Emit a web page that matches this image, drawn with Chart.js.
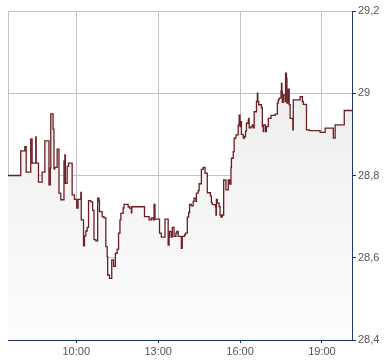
<!DOCTYPE html>
<html>
<head>
<meta charset="utf-8">
<script src="https://cdn.jsdelivr.net/npm/chart.js@4"></script>
<style>
    body { margin: 0; background: #fff; }
</style>
</head>
<body>
<canvas id="priceChart" width="390" height="364"></canvas>
<script>
// Время сделок (начало каждой ступени)
const times = ['07:30','07:58','08:07','08:10','08:20','08:23','08:31','08:32','08:37','08:45',
    '08:51','09:00','09:03','09:04','09:09','09:11','09:13','09:18','09:22','09:26',
    '09:33','09:35','09:36','09:40','09:43','09:51','09:56','10:01','10:04','10:10',
    '10:11','10:16','10:18','10:21','10:24','10:27','10:32','10:36','10:39','10:43',
    '10:47','10:50','10:51','10:57','11:01','11:05','11:08','11:09','11:13','11:18',
    '11:22','11:26','11:30','11:33','11:36','11:38','11:43','11:45','11:54','11:57',
    '12:01','12:02','12:30','12:40','12:45','12:49','12:51','12:53','13:03','13:07',
    '13:15','13:22','13:24','13:25','13:29','13:31','13:35','13:39','13:41','13:44',
    '13:51','13:53','13:58','14:00','14:04','14:07','14:09','14:13','14:17','14:19',
    '14:23','14:24','14:28','14:30','14:35','14:39','14:43','14:48','14:55','14:57',
    '14:59','15:06','15:07','15:08','15:10','15:14','15:16','15:18','15:21','15:24',
    '15:29','15:34','15:37','15:40','15:41','15:45','15:47','15:51','15:56','15:58',
    '16:00','16:01','16:03','16:07','16:10','16:12','16:14','16:18','16:19','16:20',
    '16:24','16:27','16:29','16:31','16:36','16:38','16:39','16:41','16:47','16:49',
    '16:51','16:52','16:56','16:58','17:02','17:08','17:17','17:22','17:24','17:26',
    '17:30','17:31','17:32','17:33','17:35','17:39','17:40','17:42','17:43','17:46',
    '17:48','17:50','17:56','17:57','18:12','18:17','18:19','18:26','18:32','18:56',
    '19:07','19:25','19:29','19:49','20:06'];

// Цена
const prices = [28.800,28.860,28.870,28.808,28.889,28.830,28.894,28.830,28.784,28.808,
    28.884,28.777,28.818,28.950,28.913,28.816,28.820,28.864,28.757,28.741,
    28.835,28.850,28.781,28.822,28.830,28.753,28.742,28.721,28.742,28.759,
    28.692,28.629,28.653,28.665,28.674,28.739,28.736,28.715,28.644,28.641,
    28.745,28.738,28.712,28.700,28.697,28.627,28.603,28.558,28.550,28.595,
    28.579,28.611,28.621,28.660,28.692,28.708,28.721,28.730,28.724,28.721,
    28.709,28.724,28.700,28.692,28.697,28.692,28.730,28.694,28.660,28.650,
    28.694,28.631,28.650,28.664,28.650,28.674,28.652,28.660,28.664,28.652,
    28.623,28.652,28.656,28.660,28.699,28.710,28.730,28.726,28.737,28.745,
    28.737,28.757,28.763,28.780,28.815,28.820,28.806,28.758,28.750,28.734,
    28.729,28.724,28.704,28.742,28.733,28.724,28.704,28.699,28.704,28.789,
    28.765,28.789,28.779,28.820,28.842,28.858,28.891,28.899,28.923,28.947,
    28.919,28.931,28.900,28.891,28.895,28.908,28.927,28.935,28.939,28.916,
    28.919,28.923,28.916,28.955,28.980,29.000,28.980,28.972,28.965,28.919,
    28.907,28.923,28.907,28.919,28.939,28.946,28.949,28.976,28.984,28.988,
    29.006,29.024,29.004,28.978,28.996,28.980,29.049,29.036,28.976,29.010,
    28.972,28.939,28.911,28.984,28.992,28.980,28.973,28.911,28.909,28.905,
    28.915,28.891,28.923,28.958,28.958];

// Подписи осей
const hourTicks = [10, 13, 16, 19];
const priceTicks = [28.4, 28.6, 28.8, 29.0, 29.2];

const navy = '#1c3768';
const gridGray = '#c3c3c3';

function toHours(t) {
    const parts = t.split(':');
    return Number(parts[0]) + Number(parts[1]) / 60;
}

Chart.defaults.font.family = '"Liberation Sans", Arial, sans-serif';
Chart.defaults.font.size = 11;
Chart.defaults.color = '#555';

new Chart(document.getElementById('priceChart'), {
    type: 'line',
    data: {
        datasets: [{
            data: times.map((t, i) => ({ x: toHours(t), y: prices[i] })),
            borderColor: '#6b1f24',
            borderWidth: 1.3,
            pointRadius: 0,
            stepped: true,
            fill: 'start',
            backgroundColor: function(ctx) {
                const area = ctx.chart.chartArea;
                if (!area) return '#f0f0f0';
                const g = ctx.chart.ctx.createLinearGradient(0, area.top, 0, area.bottom);
                g.addColorStop(0, '#e9e9e9');
                g.addColorStop(1, '#fdfdfd');
                return g;
            }
        }]
    },
    options: {
        responsive: false,
        animation: false,
        layout: { padding: { left: 8, top: 11, right: 0, bottom: 0 } },
        plugins: {
            legend: { display: false },
            tooltip: { enabled: false }
        },
        scales: {
            x: {
                type: 'linear',
                min: 7.5,
                max: 20.1,
                afterBuildTicks: function(scale) {
                    // левая граница + часовые метки
                    scale.ticks = [7.5].concat(hourTicks).map(v => ({ value: v }));
                },
                afterFit: function(scale) { scale.height = 24; },
                ticks: {
                    autoSkip: false,
                    maxRotation: 0,
                    padding: 2,
                    callback: function(value) {
                        if (value === 7.5) return '';
                        return (value < 10 ? '0' : '') + value + ':00';
                    }
                },
                grid: {
                    color: gridGray,
                    tickLength: 3,
                    tickColor: ctx => (ctx.tick && ctx.tick.value === 7.5) ? 'rgba(0,0,0,0)' : navy
                },
                border: { color: navy, width: 1 }
            },
            y: {
                position: 'right',
                min: 28.4,
                max: 29.2,
                afterBuildTicks: function(scale) {
                    scale.ticks = priceTicks.map(v => ({ value: v }));
                },
                afterFit: function(scale) { scale.width = 38; },
                ticks: {
                    padding: 2,
                    callback: function(value) {
                        return String(Number(value.toFixed(1))).replace('.', ',');
                    }
                },
                grid: {
                    color: ctx => (ctx.tick && Math.abs(ctx.tick.value - 28.4) < 1e-6) ? navy : gridGray,
                    tickLength: 4,
                    tickColor: navy
                },
                border: { color: navy, width: 1 }
            }
        }
    }
});
</script>
</body>
</html>
